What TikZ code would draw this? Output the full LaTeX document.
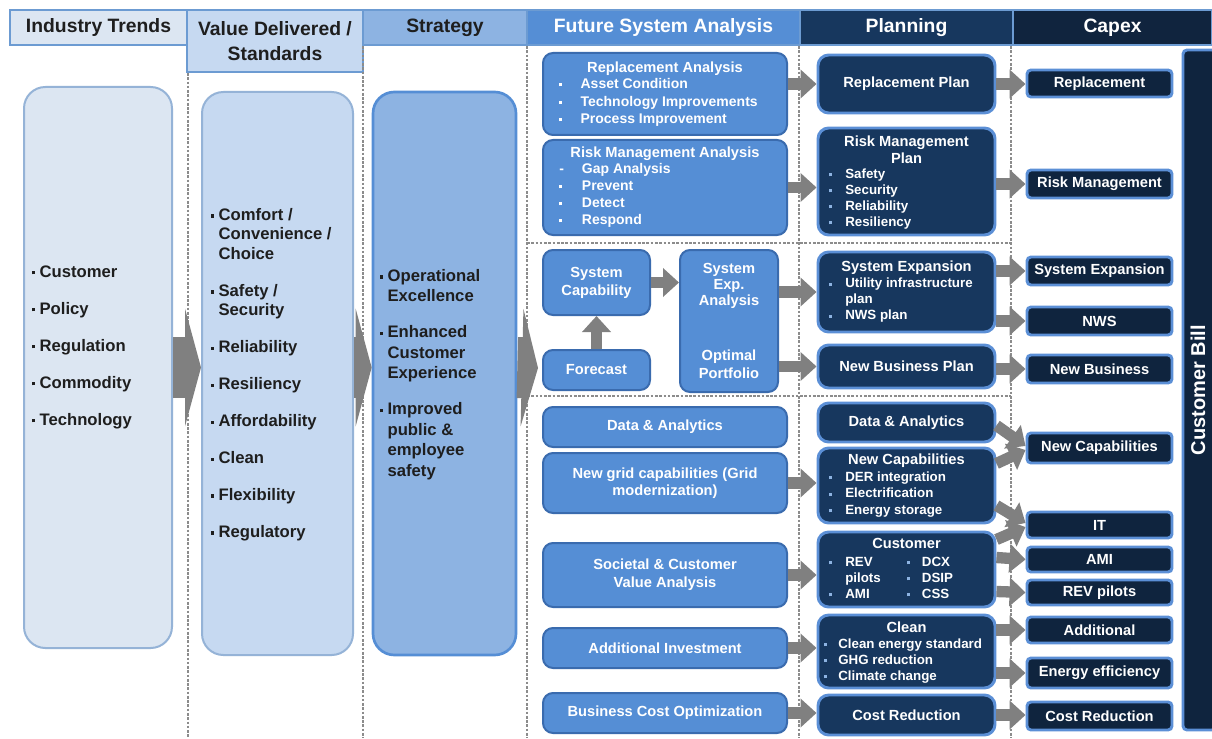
\documentclass[tikz,border=0pt]{standalone}
\usepackage{fontspec}
\setmainfont{Liberation Sans}
\usetikzlibrary{arrows.meta,calc}
\definecolor{hA}{HTML}{DCE6F2}
\definecolor{hB}{HTML}{C6D9F1}
\definecolor{hC}{HTML}{8DB3E2}
\definecolor{hD}{HTML}{558ED5}
\definecolor{hE}{HTML}{17375E}
\definecolor{hF}{HTML}{10243E}
\definecolor{hdrB}{HTML}{6C9BD2}
\definecolor{bdrL}{HTML}{95B3D7}
\definecolor{fsaF}{HTML}{558ED5}
\definecolor{fsaB}{HTML}{3A6BAE}
\definecolor{plF}{HTML}{17375E}
\definecolor{plB}{HTML}{5B8FD6}
\definecolor{cxF}{HTML}{0F243E}
\definecolor{arrG}{HTML}{808080}
\definecolor{dashG}{HTML}{8C8C8C}
\definecolor{txtD}{HTML}{1E1E1E}
\definecolor{bulB}{HTML}{8DB3E2}
\newcommand\fz[2]{\fontsize{#1}{#2}\selectfont\bfseries}
\newcommand\sqb{\raisebox{0.3ex}{\rule{2.4pt}{2.4pt}}}
\newcommand\bi[1]{\makebox[#1][l]{\sqb}}
\newcommand\bp[1]{\makebox[#1][l]{\textcolor{bulB}{\sqb}}}
\tikzset{
  hdr/.style={draw=hdrB, line width=1.2pt, inner sep=0pt, font=\fz{14.5}{18.75}, align=center, minimum height=26.25pt},
  bigbox/.style={rounded corners=16pt, line width=1.5pt, inner sep=0pt},
  fsa/.style={fill=fsaF, draw=fsaB, line width=1.5pt, rounded corners=7.5pt, text=white, font=\fz{11}{13}, align=center, inner sep=0pt, minimum width=183pt},
  pl/.style={fill=plF, draw=plB, line width=2.2pt, rounded corners=8pt, text=white, font=\fz{11}{12.75}, align=center, inner sep=0pt, minimum width=132.75pt},
  cx/.style={fill=cxF, draw=plB, line width=2.2pt, rounded corners=3pt, text=white, font=\fz{11}{13}, inner sep=0pt, minimum width=108.75pt},
  wt/.style={text=white, inner sep=0pt, align=left},
  dk/.style={text=txtD, inner sep=0pt, align=left},
  garr/.style={draw=arrG, line width=8.5pt, -{Triangle[width=21pt,length=12pt]}},
  chev/.style={draw=arrG, line width=45.75pt, -{Triangle[width=88pt,length=12pt]}},
  dsh/.style={draw=dashG, line width=2pt, dash pattern=on 2pt off 1.2pt}
}
\begin{document}
\begin{tikzpicture}[x=0.75pt,y=-0.75pt]
\useasboundingbox (0,0) rectangle (1212,738);
\fill[white] (0,0) rectangle (1212,738);

% headers
\node[hdr, fill=hA, text=txtD, minimum width=132.75pt] (H1) at (98.5,27.5) {Industry Trends};
\node[hdr, fill=hB, text=txtD, minimum width=132pt, minimum height=46.5pt] (H2) at (275,41) {Value Delivered /\\Standards};
\node[hdr, fill=hC, text=txtD, minimum width=123pt] (H3) at (445,27.5) {Strategy};
\node[hdr, fill=hD, text=white, minimum width=204.75pt] (H4) at (663.5,27.5) {Future System Analysis};
\node[hdr, fill=hE, text=white, minimum width=159.75pt] (H5) at (906.5,27.5) {Planning};
\node[hdr, fill=hF, text=white, minimum width=149.25pt] (H6) at (1112.5,27.5) {Capex};

% dashed separators
\draw[dsh] (188,73) -- (188,738);
\draw[dsh] (363,46) -- (363,738);
\draw[dsh] (527,46) -- (527,738);
\draw[dsh] (799,46) -- (799,738);
\draw[dsh] (1011,46) -- (1011,738);
\draw[dsh] (527,243) -- (1011,243);
\draw[dsh] (527,396) -- (1011,396);

% big boxes
\node[bigbox, fill=hA, draw=bdrL, minimum width=111pt, minimum height=420.75pt] (B1) at (98,367.5) {};
\node[bigbox, fill=hB, draw=bdrL, minimum width=113.25pt, minimum height=422.25pt] (B2) at (277.5,373.5) {};
\node[bigbox, fill=hC, draw=hD, line width=2pt, minimum width=107.25pt, minimum height=422.25pt] (B3) at (444.5,373.5) {};

\node[dk, anchor=west, font=\fz{12.5}{27.75}] (T1) at (32,347) {\bi{5.5pt}Customer\\\bi{5.5pt}Policy\\\bi{5.5pt}Regulation\\\bi{5.5pt}Commodity\\\bi{5.5pt}Technology};
\node[dk, anchor=west, font=\fz{12.5}{14.6}] (T2) at (211,374.5) {\bi{5.5pt}Comfort /\\\hspace*{5.5pt}Convenience /\\\hspace*{5.5pt}Choice\\[13.1pt]\bi{5.5pt}Safety /\\\hspace*{5.5pt}Security\\[13.1pt]\bi{5.5pt}Reliability\\[13.1pt]\bi{5.5pt}Resiliency\\[13.1pt]\bi{5.5pt}Affordability\\[13.1pt]\bi{5.5pt}Clean\\[13.1pt]\bi{5.5pt}Flexibility\\[13.1pt]\bi{5.5pt}Regulatory};
\node[dk, anchor=west, font=\fz{12.5}{15.4}] (T3) at (380,374.5) {\bi{5.5pt}Operational\\\hspace*{5.5pt}Excellence\\[11.6pt]\bi{5.5pt}Enhanced\\\hspace*{5.5pt}Customer\\\hspace*{5.5pt}Experience\\[11.6pt]\bi{5.5pt}Improved\\\hspace*{5.5pt}public \&\\\hspace*{5.5pt}employee\\\hspace*{5.5pt}safety};

% chevrons
\coordinate (fsaIn) at (538,368);
\draw[chev] (B1.east) -- (B1.east -| B2.west);
\draw[chev] (B2.east |- B1.east) -- (B1.east -| B3.west);
\draw[chev] (B3.east |- B1.east) -- (fsaIn);

% future system analysis
\node[fsa, minimum height=61.5pt] (F1) at (665,94) {};
\node[wt, font=\fz{11}{13}] (F1t) at (665,69) {Replacement Analysis};
\node[wt, anchor=west, font=\fz{10.5}{13.1}] (F1b) at (559,102.5) {\bi{16pt}Asset Condition\\\bi{16pt}Technology Improvements\\\bi{16pt}Process Improvement};
\node[fsa, minimum height=71.25pt] (F2) at (665,187.5) {};
\node[wt, font=\fz{11}{13}] (F2t) at (665,154) {Risk Management Analysis};
\node[wt, anchor=west, font=\fz{10.5}{12.75}] (F2b) at (559,195.5) {\makebox[17pt][l]{-}Gap Analysis\\\bi{17pt}Prevent\\\bi{17pt}Detect\\\bi{17pt}Respond};
\node[fsa, minimum width=80.25pt, minimum height=48.75pt, font=\fz{11}{13.5}] (F3) at (596.5,282.5) {System\\Capability};
\node[fsa, minimum width=80.25pt, minimum height=30pt] (F4) at (596.5,370) {Forecast};
\node[fsa, minimum width=73.5pt, minimum height=106.5pt] (F5) at (729,321) {};
\node[wt, align=center, font=\fz{11}{12}] (F5a) at (729,286) {System\\Exp.\\Analysis};
\node[wt, align=center, font=\fz{11}{13.5}] (F5b) at (729,364) {Optimal\\Portfolio};
\node[fsa, minimum height=30pt] (F6) at (665,427) {Data \& Analytics};
\node[fsa, minimum height=45pt, font=\fz{11}{12.75}] (F7) at (665,483) {New grid capabilities (Grid\\modernization)};
\node[fsa, minimum height=48pt, font=\fz{11}{13.5}] (F8) at (665,575) {Societal \& Customer\\Value Analysis};
\node[fsa, minimum height=30pt] (F9) at (665,648) {Additional Investment};
\node[fsa, minimum height=30pt] (F10) at (665,713) {Business Cost Optimization};

% planning
\node[pl, minimum height=43.5pt] (P1) at (906.5,84) {Replacement Plan};
\node[pl, minimum height=80.25pt] (P2) at (906.5,181.5) {};
\node[wt, align=center, font=\fz{11}{12.75}] (P2t) at (906.5,149.5) {Risk Management\\Plan};
\node[wt, anchor=west, font=\fz{10}{12}] (P2b) at (829,199) {\bp{12pt}Safety\\\bp{12pt}Security\\\bp{12pt}Reliability\\\bp{12pt}Resiliency};
\node[pl, minimum height=60pt] (P3) at (906.5,292) {};
\node[wt, font=\fz{11}{13}] (P3t) at (906.5,268) {System Expansion};
\node[wt, anchor=west, font=\fz{10}{12}] (P3b) at (829,300.5) {\bp{12pt}Utility infrastructure\\\hspace*{12pt}plan\\\bp{12pt}NWS plan};
\node[pl, minimum height=32.25pt] (P4) at (906.5,366.5) {New Business Plan};
\node[pl, minimum height=29.25pt] (P5) at (906.5,422.5) {Data \& Analytics};
\node[pl, minimum height=56.25pt] (P6) at (906.5,485.5) {};
\node[wt, font=\fz{11}{13}] (P6t) at (906.5,461) {New Capabilities};
\node[wt, anchor=west, font=\fz{10}{12.4}] (P6b) at (829,494.5) {\bp{12pt}DER integration\\\bp{12pt}Electrification\\\bp{12pt}Energy storage};
\node[pl, minimum height=56.25pt] (P7) at (906.5,569.5) {};
\node[wt, font=\fz{11}{13}] (P7t) at (906.5,543) {Customer};
\node[wt, anchor=west, font=\fz{10}{12}] (P7l) at (829,578) {\bp{12pt}REV\\\hspace*{12pt}pilots\\\bp{12pt}AMI};
\node[wt, anchor=west, font=\fz{10}{12}] (P7r) at (907,578) {\bp{11pt}DCX\\\bp{11pt}DSIP\\\bp{11pt}CSS};
\node[pl, minimum height=54.75pt] (P8) at (906.5,651.5) {};
\node[wt, font=\fz{11}{13}] (P8t) at (906.5,627) {Clean};
\node[wt, anchor=west, font=\fz{10}{12}] (P8b) at (824,661) {\bp{10.5pt}Clean energy standard\\\bp{10.5pt}GHG reduction\\\bp{10.5pt}Climate change};
\node[pl, minimum height=30pt] (P9) at (906.5,715) {Cost Reduction};

% capex
\node[cx, minimum height=20.25pt] (C1) at (1099.5,83.5) {Replacement};
\node[cx, minimum height=21pt] (C2) at (1099.5,184) {Risk Management};
\node[cx, minimum height=21pt] (C3) at (1099.5,271) {System Expansion};
\node[cx, minimum height=21pt] (C4) at (1099.5,321) {NWS};
\node[cx, minimum height=21pt] (C5) at (1099.5,369) {New Business};
\node[cx, minimum height=22.5pt] (C6) at (1099.5,448) {New Capabilities};
\node[cx, minimum height=19.5pt] (C7) at (1099.5,525) {IT};
\node[cx, minimum height=18.75pt] (C8) at (1099.5,559.5) {AMI};
\node[cx, minimum height=18.75pt] (C9) at (1099.5,592.5) {REV pilots};
\node[cx, minimum height=19.5pt] (C10) at (1099.5,630) {Additional};
\node[cx, minimum height=22.5pt] (C11) at (1099.5,673) {Energy efficiency};
\node[cx, minimum height=21pt] (C12) at (1099.5,716) {Cost Reduction};
\node[cx, minimum width=24.75pt, minimum height=510pt] (CB) at (1199.5,390) {};
\node[rotate=90, text=white, font=\fz{15}{18}, inner sep=0pt] (CBt) at (1198,390) {Customer Bill};

% arrows FSA -> planning
\draw[garr] (F1.east |- P1.west) -- (P1.west);
\draw[garr] (F2.east) -- (F2.east -| P2.west);
\draw[garr] (F3.east) -- (F3.east -| F5.west);
\draw[garr] (F4.north) -- (F3.south);
\draw[garr] (F5.east |- P3.west) -- (P3.west);
\draw[garr] (F5.east |- P4.west) -- (P4.west);
\draw[garr] (F7.east) -- (F7.east -| P6.west);
\draw[garr] (F8.east) -- (F8.east -| P7.west);
\draw[garr] (F9.east) -- (F9.east -| P8.west);
\draw[garr] (F10.east) -- (F10.east -| P9.west);

% arrows planning -> capex
\draw[garr] (P1.east) -- (P1.east -| C1.west);
\draw[garr] (P2.east |- C2.west) -- (C2.west);
\draw[garr] (P3.east |- C3.west) -- (C3.west);
\draw[garr] (P3.east |- C4.west) -- (C4.west);
\draw[garr] (P4.east |- C5.west) -- (C5.west);
\draw[garr] ($(P5.east)+(0,3)$) -- ($(C6.west)+(0,-2)$);
\draw[garr] ($(P6.east)+(0,-22)$) -- ($(C6.west)+(0,2)$);
\draw[garr] ($(P6.east)+(0,20)$) -- ($(C7.west)+(0,-2)$);
\draw[garr] ($(P7.east)+(0,-30)$) -- ($(C7.west)+(0,2)$);
\draw[garr] ($(P7.east)+(0,-12)$) -- (C8.west);
\draw[garr] ($(P7.east)+(0,22)$) -- (C9.west);
\draw[garr] (P8.east |- C10.west) -- (C10.west);
\draw[garr] (P8.east |- C11.west) -- (C11.west);
\draw[garr] (P9.east) -- (P9.east -| C12.west);
\end{tikzpicture}
\end{document}
